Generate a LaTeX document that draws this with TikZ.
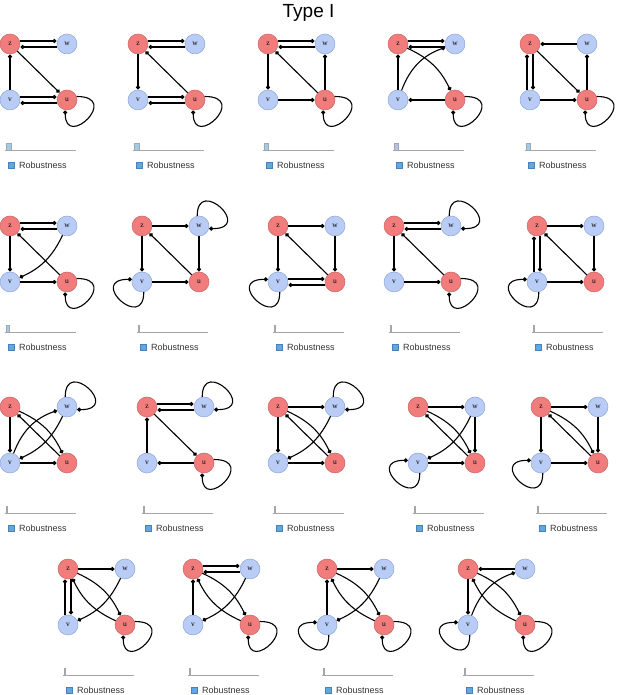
\documentclass[tikz,border=0pt]{standalone}
\usepackage{fontspec}
\setmainfont{Liberation Serif}
\newfontfamily\arialfont{Liberation Sans}
\usetikzlibrary{arrows.meta}
\definecolor{redfill}{RGB}{241,124,124}
\definecolor{redline}{RGB}{205,100,100}
\definecolor{bluefill}{RGB}{184,204,246}
\definecolor{blueline}{RGB}{142,166,214}
\definecolor{axisgray}{RGB}{165,165,170}
\definecolor{keyblue}{RGB}{96,168,222}
\definecolor{keyline}{RGB}{70,130,185}

\begin{document}
\begin{tikzpicture}[x=1pt,y=1pt]
	\tikzset{rednode/.style = {shape=circle, minimum size=20pt, inner sep=0pt, fill=redfill, draw=redline, line width=0.5pt, font=\fontsize{7.5}{8}\selectfont},
		bluenode/.style = {rednode, fill=bluefill, draw=blueline},
		link/.style = {-{Circle[length=4pt,width=4pt]}, line width=1.1pt, shorten >=0.4pt},
		keybox/.style = {shape=rectangle, minimum size=6pt, inner sep=0pt, fill=keyblue, draw=keyline, line width=0.4pt},
		keytext/.style = {anchor=west, inner sep=0pt, text=black!80, font=\arialfont\fontsize{9}{10}\selectfont}}
	\useasboundingbox (0,0) rectangle (617,695);
	\node[font=\arialfont\fontsize{19}{22}\selectfont] (title) at (308.5,682) {Type I};
	
	% panels: number / x of z / y of z / bar width
	\foreach \n/\x/\y/\b in {1/10/651/5, 2/138/651/5, 3/268/651/4, 4/398/651/4, 5/530/651/4,
		6/10/469/3, 7/142/469/1, 8/278/469/1, 9/394/469/1, 10/537/469/1,
		11/10/288/1, 12/147/288/1, 13/278/288/1, 14/418/288/1, 15/541/288/1,
		16/68/126/1, 17/193/126/1, 18/327/126/1, 19/468/126/1} {
		\node[rednode] (z\n) at (\x,\y) {z};
		\node[bluenode] (w\n) at (\x+57,\y) {w};
		\node[bluenode] (v\n) at (\x,\y-56) {v};
		\node[rednode] (u\n) at (\x+57,\y-56) {u};
		\draw[fill=keyblue!60, draw=axisgray, line width=0.5pt] (\x-4,\y-106) rectangle +(\b,7);
		\draw[draw=axisgray, line width=0.8pt] (\x-5,\y-106) -- (\x+66,\y-106);
		\node[keybox] (key\n) at (\x+1,\y-121) {};
		\node[keytext] (lab\n) at (\x+9,\y-121) {Robustness};
	}
	
	% z and w
	\foreach \n in {1,2,3,4,6,9,12,17} {
		\draw[link] ([yshift=3pt]z\n.east) -- ([yshift=3pt]w\n.west);
		\draw[link] ([yshift=-3pt]w\n.west) -- ([yshift=-3pt]z\n.east);
	}
	\foreach \n in {7,8,10,13,14,15,16,18} \draw[link] (z\n) -- (w\n);
	\foreach \n in {5,19} \draw[link] (w\n) -- (z\n);
	
	% z and v
	\foreach \n in {2,3,6,7,8,9,11,13,15,19} \draw[link] (z\n) -- (v\n);
	\foreach \n in {1,4,12,17,18} \draw[link] (v\n) -- (z\n);
	\foreach \n in {5,10,16} {
		\draw[link] ([xshift=-3pt]v\n.north) -- ([xshift=-3pt]z\n.south);
		\draw[link] ([xshift=3pt]z\n.south) -- ([xshift=3pt]v\n.north);
	}
	
	% diagonals
	\foreach \n in {1,5,12} \draw[link] (z\n) -- (u\n);
	\foreach \n in {2,3,6,7,8,9,10,11,13,14,15} \draw[link] (u\n) -- (z\n);
	\foreach \n in {4,11,13,14,15,16,17,18,19} \draw[link] (z\n) to[bend left=20] (u\n);
	\foreach \n in {16,17,18,19} \draw[link] (u\n) to[bend left=20] (z\n);
	\foreach \n in {4,11,19} \draw[link] (v\n) to[bend left=25] (w\n);
	\foreach \n in {6,11,13,14,16,17,18} \draw[link] (w\n) to[bend left=20] (v\n);
	
	% v and u
	\foreach \n in {1,2,8} {
		\draw[link] ([yshift=3pt]v\n.east) -- ([yshift=3pt]u\n.west);
		\draw[link] ([yshift=-3pt]u\n.west) -- ([yshift=-3pt]v\n.east);
	}
	\foreach \n in {3,5,6,7,9,10,11,13,14,15} \draw[link] (v\n) -- (u\n);
	\foreach \n in {4,12} \draw[link] (u\n) -- (v\n);
	
	% w and u
	\foreach \n in {7,8,10,14,15} \draw[link] (w\n) -- (u\n);
	\foreach \n in {3,5} \draw[link] (u\n) -- (w\n);
	
	% self loops
	\foreach \n in {1,2,3,4,5,6,9,12,16,17,18,19}
		\draw[link] (u\n.20) .. controls +(45,0) and +(0,-40) .. (u\n.-100);
	\foreach \n in {7,9,11,12,13}
		\draw[link] (w\n.100) .. controls +(0,40) and +(45,0) .. (w\n.-15);
	\foreach \n in {7,8,10,14,15,18,19}
		\draw[link] (v\n.-80) .. controls +(0,-40) and +(-45,0) .. (v\n.165);
	
\end{tikzpicture}
\end{document}
